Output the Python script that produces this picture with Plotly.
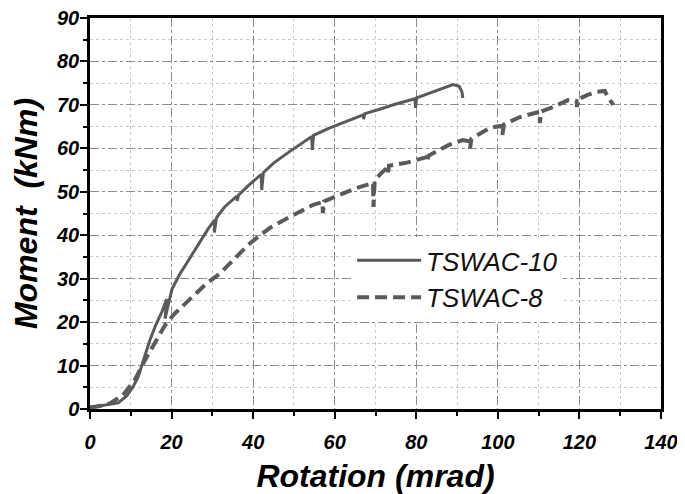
import plotly.graph_objects as go

# TSWAC-10 (solid)
rot_10 = [0, 3, 6.9, 9, 10.5, 11.8, 13.2, 14.7, 16.2, 17.6, 18.8, 18.4, 19.2, 20.1,
          22, 25.7, 27, 29, 30.6, 30.5, 31, 33, 36, 36.1, 36.4, 39, 42, 42.1, 42.5,
          45, 49, 52, 54.4, 54.5, 54.8, 58.8, 63.7, 67, 67.1, 67.4, 71, 75, 79.7,
          79.8, 80.1, 84, 87, 89, 90.5, 91.2, 91.4]
mom_10 = [0.5, 0.8, 1.4, 3.0, 5.0, 7.4, 11.5, 15.9, 19.5, 22.3, 25.3, 20.8, 24.0, 27.6,
          31.0, 36.6, 38.5, 41.5, 43.5, 40.6, 44.0, 46.5, 49.0, 47.9, 49.2, 51.6, 54.0, 50.4, 54.4,
          56.6, 59.3, 61.3, 62.7, 59.6, 63.0, 64.7, 66.6, 67.7, 66.7, 68.0, 69.0, 70.2, 71.4,
          69.3, 71.6, 73.0, 74.0, 74.7, 74.3, 73.0, 71.6]

# TSWAC-8 (dashed)
rot_8 = [0, 2, 4.9, 8.1, 11, 13.5, 15.9, 18.4, 20.8, 24.9, 28.6, 31.9, 35.1, 38.8, 41.3, 44.1,
         49, 54.7, 57, 57.1, 57.4, 61.3, 65.4, 69.4, 69.5, 69.8, 71, 73, 73.1, 73.3,
         77.7, 82.6, 82.7, 83, 88, 91.4, 93.1, 93.2, 93.5, 98, 101, 101.1, 101.5,
         105.4, 110.2, 110.3, 110.6, 113.5, 117.2, 119.3, 119.4, 119.7, 122, 124.2,
         126.2, 127, 128.3]
mom_8 = [0.3, 0.6, 1.3, 3.2, 6.7, 11.3, 15.2, 19.3, 22.0, 25.5, 28.9, 31.2, 34.3, 37.8, 39.7, 41.7,
         44.2, 47.0, 47.6, 45.1, 47.8, 49.3, 50.9, 52.0, 46.5, 52.6, 53.9, 55.7, 54.5, 56.0,
         56.7, 58.0, 56.9, 58.3, 60.8, 61.9, 61.6, 60.0, 62.2, 64.7, 65.2, 63.1, 65.5,
         67.2, 68.4, 65.8, 68.5, 69.5, 71.1, 70.9, 69.5, 71.3, 72.3, 73.0,
         73.2, 71.8, 70.0]

series_names = ["TSWAC-10", "TSWAC-8"]
x_ticks = [0, 20, 40, 60, 80, 100, 120, 140]
y_ticks = [0, 10, 20, 30, 40, 50, 60, 70, 80, 90]

curve_color = "#5a5a5a"
tick_font = dict(family="Liberation Sans", size=20, color="black", weight="bold", style="italic")
title_font = dict(family="Liberation Sans", size=32, color="black", weight="bold", style="italic")

fig = go.Figure()
fig.add_trace(go.Scatter(x=rot_10, y=mom_10, mode="lines", name=series_names[0],
                         line=dict(color=curve_color, width=3)))
fig.add_trace(go.Scatter(x=rot_8, y=mom_8, mode="lines", name=series_names[1],
                         line=dict(color=curve_color, width=4, dash="12px,6px")))

axis_common = dict(
    showline=True, linecolor="black", linewidth=2.5, mirror=True,
    ticks="outside", ticklen=7, tickwidth=2, tickcolor="black",
    tickfont=tick_font, zeroline=False, ticklabeloverflow="allow",
    showgrid=True, gridcolor="#8c8c8c", gridwidth=1, griddash="dashdot",
)

fig.update_xaxes(
    range=[0, 140], tickvals=x_ticks, ticktext=[str(v) for v in x_ticks],
    ticklabelstandoff=6,
    title=dict(text="Rotation (mrad)", font=title_font, standoff=13),
    minor=dict(dtick=10, tick0=0, ticks="outside", ticklen=4, tickwidth=2, tickcolor="black",
               showgrid=True, gridcolor="#c8c8c8", gridwidth=1, griddash="dot"),
    **axis_common,
)
fig.update_yaxes(
    range=[0, 90], tickvals=y_ticks, ticktext=[str(v) for v in y_ticks],
    ticklabelstandoff=-3,
    title=dict(text="Moment  (kNm)", font=title_font, standoff=24),
    minor=dict(dtick=5, tick0=0, ticks="outside", ticklen=4, tickwidth=2, tickcolor="black",
               showgrid=True, gridcolor="#c8c8c8", gridwidth=1, griddash="dot"),
    **axis_common,
)

fig.update_layout(
    width=677, height=486,
    margin=dict(l=82, r=24, t=10, b=85, autoexpand=False),
    paper_bgcolor="white", plot_bgcolor="white",
    showlegend=True,
    legend=dict(
        x=0.459, y=0.44, xanchor="left", yanchor="top",
        bgcolor="white", borderwidth=0,
        font=dict(family="Liberation Sans", size=26, color="#111111", style="italic"),
        itemwidth=64, tracegroupgap=0,
    ),
)

fig.write_html("out.html")
